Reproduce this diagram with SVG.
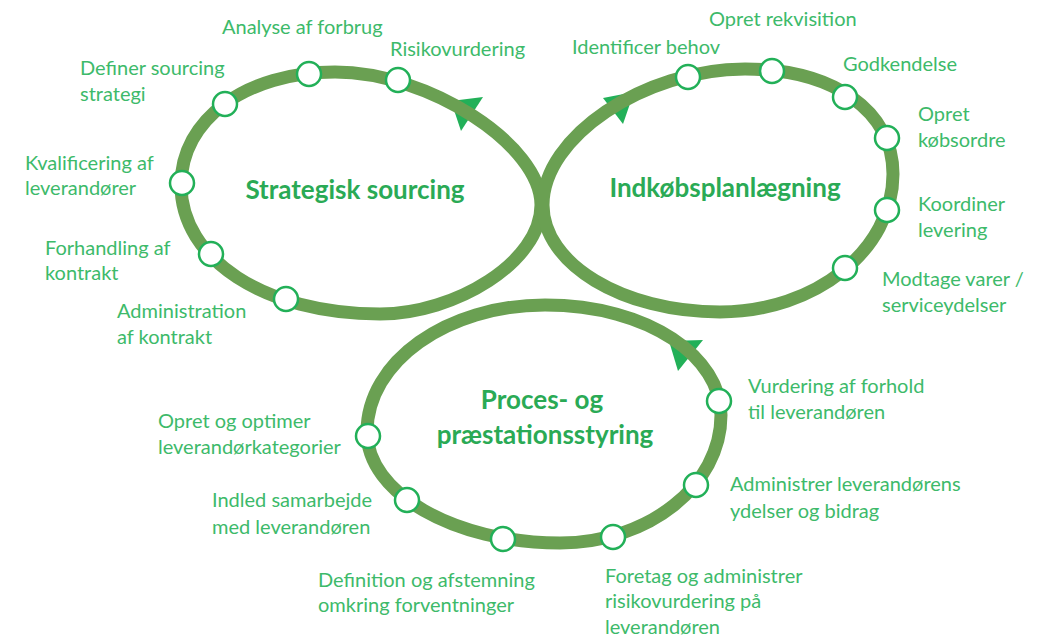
<svg xmlns="http://www.w3.org/2000/svg" width="1049" height="636" viewBox="0 0 1049 636">
  <style>
    .loop { fill: none; stroke: #6aa052; stroke-width: 13; }
    .dir { fill: #22b058; stroke: none; }
    .step circle { fill: #ffffff; stroke: #22b058; stroke-width: 2.5; }
    .lbl { font-family: Lato, "Open Sans", sans-serif; font-size: 20px; fill: #3dba6a; }
    .title { font-family: Lato, "Open Sans", sans-serif; font-size: 26px; font-weight: bold; fill: #2aaa55; text-anchor: middle; }
  </style>

  <!-- cycle loops with direction heads tucked under the band -->
  <g id="connectors">
    <polygon class="dir" points="483,97 461,131 451,101"/>
    <polygon class="dir" points="603,98 623,124 634,92"/>
    <polygon class="dir" points="703,340 678,371 669,341"/>
    <path id="loop-strategic" class="loop" d="M335,72 C428.6,72 541,145 541,205 C541,262 455,314 380,314 C264.6,314 181,259.2 181,185 C181,119.5 245.7,72 335,72 Z"/>
    <path id="loop-purchase" class="loop" d="M745,69 C833.8,69 893,111 893,174 C893,249.9 815.2,312 720,312 C622.6,312 543,263.9 543,205 C543,137 644,69 745,69 Z"/>
    <path id="loop-process" class="loop" d="M545,305 C650,305 721,358 721,415 C721,485.4 648.6,543 560,543 C453.9,543 367,493 367,432 C367,361.6 447,305 545,305 Z"/>
  </g>

  <!-- cycle titles -->
  <g id="title-strategic"><text class="title" x="355" y="199">Strategisk sourcing</text></g>
  <g id="title-purchase"><text class="title" x="725" y="197">Indkøbsplanlægning</text></g>
  <g id="title-process">
    <text class="title" x="542" y="409">Proces- og</text>
    <text class="title" x="545" y="444">præstationsstyring</text>
  </g>

  <!-- strategic sourcing steps -->
  <g id="s-analyse" class="step"><circle cx="309" cy="74" r="12"/><text class="lbl" x="222" y="34">Analyse af forbrug</text></g>
  <g id="s-risiko" class="step"><circle cx="398" cy="80" r="12"/><text class="lbl" x="390" y="56">Risikovurdering</text></g>
  <g id="s-definer" class="step"><circle cx="225" cy="104" r="12"/><text class="lbl" x="80" y="75">Definer sourcing</text><text class="lbl" x="80" y="101">strategi</text></g>
  <g id="s-kval" class="step"><circle cx="182" cy="183" r="12"/><text class="lbl" x="25" y="170">Kvalificering af</text><text class="lbl" x="25" y="195">leverandører</text></g>
  <g id="s-forhandling" class="step"><circle cx="211" cy="254" r="12"/><text class="lbl" x="45" y="255">Forhandling af</text><text class="lbl" x="45" y="280">kontrakt</text></g>
  <g id="s-admin" class="step"><circle cx="286" cy="299" r="12"/><text class="lbl" x="117" y="318">Administration</text><text class="lbl" x="117" y="344">af kontrakt</text></g>

  <!-- purchase planning steps -->
  <g id="p-behov" class="step"><circle cx="688" cy="77" r="12"/><text class="lbl" x="572" y="54">Identificer behov</text></g>
  <g id="p-rekv" class="step"><circle cx="772" cy="71" r="12"/><text class="lbl" x="709" y="26">Opret rekvisition</text></g>
  <g id="p-godk" class="step"><circle cx="845" cy="97" r="12"/><text class="lbl" x="843" y="71">Godkendelse</text></g>
  <g id="p-ordre" class="step"><circle cx="887" cy="138" r="12"/><text class="lbl" x="918" y="121">Opret</text><text class="lbl" x="918" y="147">købsordre</text></g>
  <g id="p-koord" class="step"><circle cx="887" cy="210" r="12"/><text class="lbl" x="918" y="211">Koordiner</text><text class="lbl" x="918" y="237">levering</text></g>
  <g id="p-modtage" class="step"><circle cx="845" cy="268" r="12"/><text class="lbl" x="882" y="286">Modtage varer /</text><text class="lbl" x="882" y="312">serviceydelser</text></g>

  <!-- process and performance steps -->
  <g id="r-vurdering" class="step"><circle cx="719" cy="401" r="12"/><text class="lbl" x="748" y="393">Vurdering af forhold</text><text class="lbl" x="748" y="419">til leverandøren</text></g>
  <g id="r-ydelser" class="step"><circle cx="696" cy="485" r="12"/><text class="lbl" x="730" y="491">Administrer leverandørens</text><text class="lbl" x="730" y="518">ydelser og bidrag</text></g>
  <g id="r-risiko" class="step"><circle cx="613" cy="537" r="12"/><text class="lbl" x="605" y="583">Foretag og administrer</text><text class="lbl" x="605" y="608">risikovurdering på</text><text class="lbl" x="605" y="634">leverandøren</text></g>
  <g id="r-forvent" class="step"><circle cx="503" cy="539" r="12"/><text class="lbl" x="318" y="587">Definition og afstemning</text><text class="lbl" x="318" y="612">omkring forventninger</text></g>
  <g id="r-samarbejde" class="step"><circle cx="407" cy="500" r="12"/><text class="lbl" x="212" y="507">Indled samarbejde</text><text class="lbl" x="212" y="534">med leverandøren</text></g>
  <g id="r-kategorier" class="step"><circle cx="368" cy="436" r="12"/><text class="lbl" x="158" y="428">Opret og optimer</text><text class="lbl" x="158" y="454">leverandørkategorier</text></g>
</svg>
